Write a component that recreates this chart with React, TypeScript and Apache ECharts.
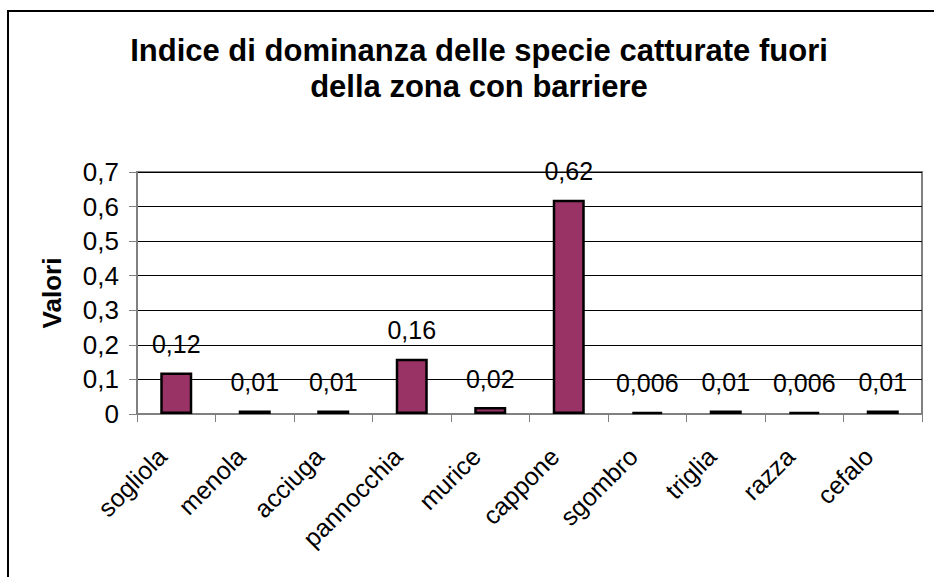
import React, { useEffect, useRef } from "react";
import * as echarts from "echarts";

const categories = ["sogliola", "menola", "acciuga", "pannocchia", "murice", "cappone", "sgombro", "triglia", "razza", "cefalo"];
const values = [0.12, 0.01, 0.01, 0.16, 0.02, 0.62, 0.006, 0.01, 0.006, 0.01];
const titleText = "Indice di dominanza delle specie catturate fuori\ndella zona con barriere";
const yAxisName = "Valori";

const FONT = "'Liberation Sans', Arial, sans-serif";
const comma = (v: number) => String(v).replace(".", ",");

export default function App() {
  const ref = useRef<HTMLDivElement>(null);
  useEffect(() => {
    if (!ref.current) return;
    const chart = echarts.init(ref.current, null, { renderer: "svg" });
    chart.setOption({
      animation: false,
      backgroundColor: "#ffffff",
      title: {
        text: titleText,
        left: 474,
        textAlign: "center",
        top: 27,
        textStyle: { fontFamily: FONT, fontSize: 31, fontWeight: "bold", color: "#000", lineHeight: 36 },
      },
      graphic: [
        {
          type: "rect",
          shape: { x: 8, y: 11, width: 1000, height: 1000 },
          style: { fill: "none", stroke: "#000", lineWidth: 2 },
          silent: true,
        },
      ],
      grid: {
        left: 137,
        right: 12,
        top: 172,
        bottom: 163,
        show: true,
        borderColor: "#808080",
        borderWidth: 2,
        backgroundColor: "transparent",
      },
      xAxis: {
        type: "category",
        data: categories,
        axisLine: { show: true, lineStyle: { color: "#808080", width: 2 } },
        axisTick: { show: true, length: 8, lineStyle: { color: "#808080", width: 1 } },
        axisLabel: {
          rotate: 45,
          margin: 24,
          padding: [0, 20, 0, 0],
          fontFamily: FONT,
          fontSize: 25,
          color: "#000",
          interval: 0,
        },
        splitLine: { show: false },
      },
      yAxis: {
        type: "value",
        min: 0,
        max: 0.7,
        interval: 0.1,
        name: yAxisName,
        nameLocation: "middle",
        nameGap: 72,
        nameTextStyle: { fontFamily: FONT, fontSize: 26, fontWeight: "bold", color: "#000" },
        axisLine: { show: true, lineStyle: { color: "#808080", width: 2 } },
        axisTick: { show: true, length: 8, lineStyle: { color: "#808080", width: 1 } },
        axisLabel: {
          margin: 18,
          fontFamily: FONT,
          fontSize: 26,
          color: "#000",
          formatter: (v: number) => comma(Math.round(v * 10) / 10),
        },
        splitLine: { show: true, lineStyle: { color: "#000", width: 1 } },
      },
      series: [
        {
          type: "bar",
          data: values,
          barWidth: 32,
          itemStyle: { color: "#993366", borderColor: "#000", borderWidth: 2.5 },
          label: {
            show: true,
            position: "top",
            distance: 16,
            fontFamily: FONT,
            fontSize: 25,
            color: "#000",
            formatter: (p: any) => comma(p.value),
          },
        },
      ],
    });
    return () => chart.dispose();
  }, []);
  return <div ref={ref} style={{ position: "fixed", left: 0, top: 0, width: 934, height: 577 }} />;
}
